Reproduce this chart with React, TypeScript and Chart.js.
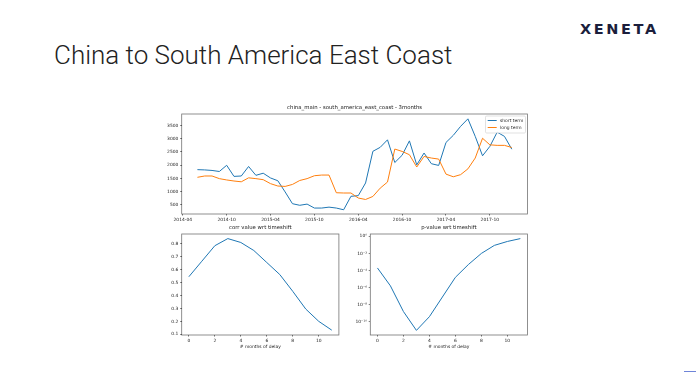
import React, { useEffect, useRef } from "react";
import { Chart, registerables } from "chart.js";

Chart.register(...registerables);

// ---------- data ----------
const START_MONTH = "2014-06";
const shortTerm = [
  1830, 1820, 1800, 1760, 1995, 1575, 1590, 1950, 1615, 1695, 1515, 1410,
  985, 540, 480, 525, 375, 375, 410, 375, 310, 820, 845, 1325,
  2525, 2675, 2960, 2100, 2375, 2920, 2010, 2460, 2055, 1990, 2860, 3130,
  3470, 3755, 3090, 2355, 2710, 3250, 3090, 2605,
];
const longTerm = [
  1540, 1590, 1590, 1490, 1440, 1400, 1370, 1520, 1490, 1450, 1300, 1210,
  1195, 1270, 1420, 1490, 1600, 1625, 1625, 955, 945, 945, 755, 700,
  815, 1130, 1360, 2610, 2520, 2395, 1930, 2330, 2270, 2230, 1660, 1560,
  1640, 1860, 2270, 3020, 2770, 2750, 2750, 2670,
];
const dateTicks = ["2014-04", "2014-10", "2015-04", "2015-10", "2016-04", "2016-10", "2017-04", "2017-10"];
const rateTicks = [500, 1000, 1500, 2000, 2500, 3000, 3500];

const delays = [0, 1, 2, 3, 4, 5, 6, 7, 8, 9, 10, 11];
const corrValues = [0.545, 0.665, 0.785, 0.84, 0.81, 0.748, 0.655, 0.562, 0.432, 0.295, 0.2, 0.132];
const pValues = [2e-4, 1.6e-6, 1.6e-9, 1e-11, 4e-10, 8e-8, 1.6e-5, 5e-4, 1e-2, 8.7e-2, 0.25, 0.54];
const delayTicks = [0, 2, 4, 6, 8, 10];
const corrTicks = [0.1, 0.2, 0.3, 0.4, 0.5, 0.6, 0.7, 0.8];
const pTickExponents = [0, -2, -4, -6, -8, -10];

// ---------- helpers ----------
const FONT = "DejaVu Sans";
const TICK_SIZE = 4.45;
const TITLE_SIZE = 5.35;
const W = 696;
const H = 391;

const monthIndex = (s: string) => {
  const [y, m] = s.split("-").map(Number);
  const [by, bm] = dateTicks[0].split("-").map(Number);
  return (y - by) * 12 + (m - bm);
};
const addMonths = (s: string, n: number) => {
  const [y, m] = s.split("-").map(Number);
  const t = y * 12 + (m - 1) + n;
  return `${Math.floor(t / 12)}-${String((t % 12) + 1).padStart(2, "0")}`;
};
const SUP: Record<string, string> = {
  "0": "⁰", "1": "¹", "2": "²", "3": "³", "4": "⁴", "5": "⁵", "6": "⁶", "7": "⁷", "8": "⁸", "9": "⁹", "-": "⁻",
};
const sup = (n: number) => String(n).split("").map((c) => SUP[c] || c).join("");

const tickFont = { family: FONT, size: TICK_SIZE };
const gridOpts = {
  display: true,
  drawOnChartArea: false,
  drawTicks: true,
  tickLength: 1.6,
  tickColor: "#333",
  lineWidth: 0.6,
};

function axis(
  min: number,
  max: number,
  ticks: number[],
  fit: { width?: number; height?: number },
  cb: (v: number) => string,
  extra: any = {}
) {
  return {
    type: "linear",
    min,
    max,
    afterBuildTicks: (s: any) => {
      s.ticks = ticks.map((v) => ({ value: v }));
    },
    afterFit: (s: any) => {
      if (fit.width !== undefined) s.width = fit.width;
      if (fit.height !== undefined) s.height = fit.height;
    },
    ticks: {
      font: tickFont,
      color: "#222",
      padding: 1.7,
      autoSkip: false,
      maxRotation: 0,
      minRotation: 0,
      callback: (v: any) => cb(Number(v)),
    },
    grid: gridOpts,
    border: { display: false },
    ...extra,
  };
}

const framePlugin = {
  id: "frame",
  afterDraw(chart: any) {
    const { ctx, chartArea: a } = chart;
    ctx.save();
    ctx.strokeStyle = "rgba(0,0,0,0.55)";
    ctx.lineWidth = 0.8;
    ctx.strokeRect(a.left, a.top, a.right - a.left, a.bottom - a.top);
    ctx.restore();
  },
};

const boxLegendPlugin = {
  id: "boxLegend",
  afterDraw(chart: any) {
    const { ctx, chartArea: a } = chart;
    const x1 = a.right - 2;
    const x0 = x1 - 40;
    const y0 = a.top + 2;
    const h = 17;
    ctx.save();
    ctx.fillStyle = "rgba(255,255,255,0.8)";
    ctx.strokeStyle = "#cccccc";
    ctx.lineWidth = 0.6;
    ctx.beginPath();
    (ctx as any).roundRect(x0, y0, x1 - x0, h, 1.2);
    ctx.fill();
    ctx.stroke();
    ctx.font = `${TICK_SIZE}px "${FONT}"`;
    ctx.textBaseline = "middle";
    ctx.textAlign = "left";
    chart.data.datasets.forEach((ds: any, i: number) => {
      const y = y0 + 4.5 + i * 7;
      ctx.strokeStyle = ds.borderColor;
      ctx.lineWidth = 1;
      ctx.beginPath();
      ctx.moveTo(x0 + 2.2, y);
      ctx.lineTo(x0 + 11.2, y);
      ctx.stroke();
      ctx.fillStyle = "#222";
      ctx.fillText(ds.label, x0 + 14.5, y);
    });
    ctx.restore();
  },
};

const titleOpts = (text: string) => ({
  display: true,
  text,
  color: "#222",
  font: { family: FONT, size: TITLE_SIZE, weight: "normal" },
  padding: { top: 0, bottom: 2.7 },
  fullSize: false,
});
const TITLE_H = TITLE_SIZE * 1.2 + 2.7;

const axisTitle = (text: string) => ({
  display: true,
  text,
  color: "#222",
  font: { family: FONT, size: TICK_SIZE },
  padding: { top: 0, bottom: 0.8 },
});

// plot rectangles (matplotlib gridspec)
const TOP = { l: 181.7, r: 527.5, t: 114, b: 214 };
const BL = { l: 181.7, r: 338.9, t: 234, b: 335 };
const BR = { l: 370.3, r: 527.5, t: 234, b: 335 };
const Y_W = 30;

const baseOptions = (rect: any, xH: number) => ({
  responsive: false,
  devicePixelRatio: 1,
  animation: false,
  events: [],
  layout: {
    padding: {
      left: rect.l - Y_W,
      right: W - rect.r,
      top: rect.t - TITLE_H,
      bottom: H - rect.b - xH,
    },
  },
});

function topConfig(): any {
  const xs = shortTerm.map((_, i) => monthIndex(addMonths(START_MONTH, i)));
  const labelOf = (v: number) => dateTicks.find((d) => monthIndex(d) === v) || "";
  return {
    type: "line",
    data: {
      datasets: [
        {
          label: "short term",
          data: shortTerm.map((y, i) => ({ x: xs[i], y })),
          borderColor: "#1f77b4",
          borderWidth: 1,
          pointRadius: 0,
          tension: 0,
          order: 1,
        },
        {
          label: "long term",
          data: longTerm.map((y, i) => ({ x: xs[i], y })),
          borderColor: "#ff7f0e",
          borderWidth: 1,
          pointRadius: 0,
          tension: 0,
          order: 0,
        },
      ],
    },
    options: {
      ...baseOptions(TOP, 12),
      plugins: {
        legend: { display: false },
        tooltip: { enabled: false },
        title: titleOpts("china_main - south_america_east_coast - 3months"),
      },
      scales: {
        x: axis(-0.15, 47.15, dateTicks.map(monthIndex), { height: 12 }, labelOf),
        y: axis(150, 3938, rateTicks, { width: Y_W }, (v) => String(v)),
      },
    },
    plugins: [framePlugin, boxLegendPlugin],
  };
}

function corrConfig(): any {
  return {
    type: "line",
    data: {
      datasets: [
        {
          label: "corr",
          data: corrValues.map((y, i) => ({ x: delays[i], y })),
          borderColor: "#1f77b4",
          borderWidth: 1,
          pointRadius: 0,
          tension: 0,
        },
      ],
    },
    options: {
      ...baseOptions(BL, 15),
      plugins: {
        legend: { display: false },
        tooltip: { enabled: false },
        title: titleOpts("corr value wrt timeshift"),
      },
      scales: {
        x: axis(-0.55, 11.55, delayTicks, { height: 15 }, (v) => String(v), {
          title: axisTitle("# months of delay"),
        }),
        y: axis(0.0945, 0.8755, corrTicks, { width: Y_W }, (v) => v.toFixed(1)),
      },
    },
    plugins: [framePlugin],
  };
}

function pConfig(): any {
  const yAxis: any = axis(Math.pow(10, -11.54), Math.pow(10, 0.27), pTickExponents.map((e) => Math.pow(10, e)), { width: Y_W }, (v) =>
    "10" + sup(Math.round(Math.log10(v)))
  );
  yAxis.type = "logarithmic";
  return {
    type: "line",
    data: {
      datasets: [
        {
          label: "p",
          data: pValues.map((y, i) => ({ x: delays[i], y })),
          borderColor: "#1f77b4",
          borderWidth: 1,
          pointRadius: 0,
          tension: 0,
        },
      ],
    },
    options: {
      ...baseOptions(BR, 15),
      plugins: {
        legend: { display: false },
        tooltip: { enabled: false },
        title: titleOpts("p-value wrt timeshift"),
      },
      scales: {
        x: axis(-0.55, 11.55, delayTicks, { height: 15 }, (v) => String(v), {
          title: axisTitle("# months of delay"),
        }),
        y: yAxis,
      },
    },
    plugins: [framePlugin],
  };
}

export default function App() {
  const topRef = useRef<HTMLCanvasElement>(null);
  const blRef = useRef<HTMLCanvasElement>(null);
  const brRef = useRef<HTMLCanvasElement>(null);

  useEffect(() => {
    const charts = [
      new Chart(topRef.current as HTMLCanvasElement, topConfig()),
      new Chart(blRef.current as HTMLCanvasElement, corrConfig()),
      new Chart(brRef.current as HTMLCanvasElement, pConfig()),
    ];
    return () => charts.forEach((c) => c.destroy());
  }, []);

  const canvasStyle: React.CSSProperties = { position: "absolute", left: 0, top: 0, display: "block" };

  return (
    <div
      style={{
        position: "absolute",
        left: 0,
        top: 0,
        width: W,
        height: H,
        background: "#ffffff",
        overflow: "hidden",
      }}
    >
      <div
        style={{
          position: "absolute",
          left: 54,
          top: 42,
          fontFamily: "Roboto, sans-serif",
          fontWeight: 300,
          fontSize: 26,
          lineHeight: 1,
          color: "#222222",
          whiteSpace: "nowrap",
        }}
      >
        China to South America East Coast
      </div>
      <div
        style={{
          position: "absolute",
          left: 580,
          top: 22,
          fontFamily: "DejaVu Sans, sans-serif",
          fontWeight: 700,
          fontSize: 14.5,
          lineHeight: 1,
          letterSpacing: 2.6,
          color: "#1b1e3c",
          whiteSpace: "nowrap",
        }}
      >
        XENETA
      </div>
      <div style={{ position: "absolute", left: 684, top: 371, width: 12, height: 1, background: "#6e84d8" }} />
      <canvas ref={topRef} width={W} height={H} style={canvasStyle} />
      <canvas ref={blRef} width={W} height={H} style={canvasStyle} />
      <canvas ref={brRef} width={W} height={H} style={canvasStyle} />
    </div>
  );
}
